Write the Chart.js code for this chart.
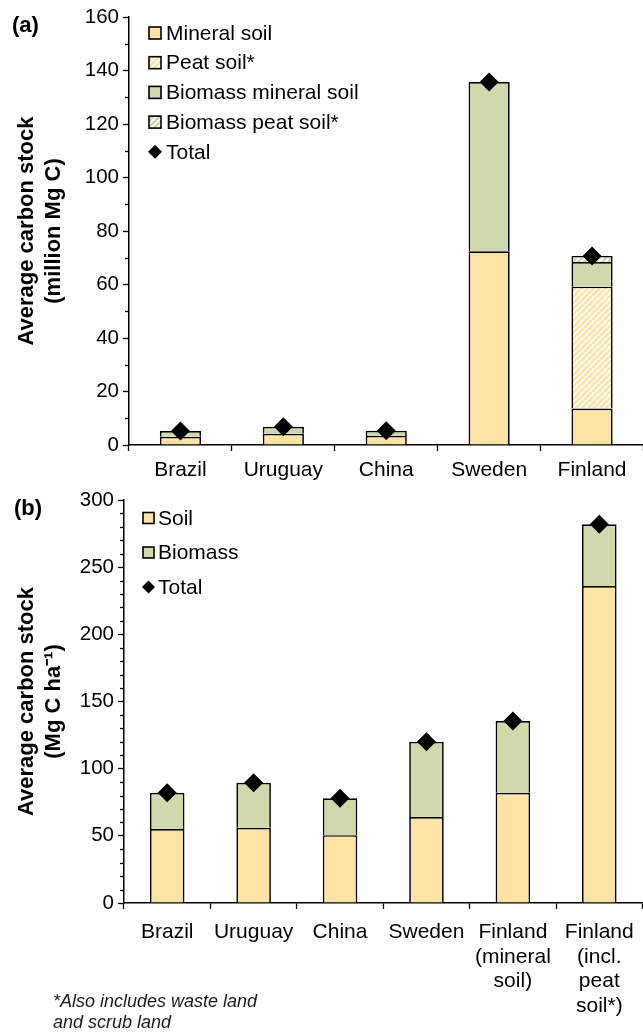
<!DOCTYPE html>
<html>
<head>
<meta charset="utf-8">
<script src="https://cdn.jsdelivr.net/npm/chart.js@4/dist/chart.umd.min.js"></script>
<style>
  html, body { margin: 0; padding: 0; background: #fff; overflow: hidden; }
  #wrap { position: relative; width: 643px; height: 1033px; overflow: hidden; background: #fff; }
  .panel { position: absolute; left: 0; }
  .tag { position: absolute; font: bold 22px "Liberation Sans", Arial, sans-serif; color: #000; line-height: 26px; }
  .note { position: absolute; left: 53px; top: 991px; font: italic 18px/21px "Liberation Sans", Arial, sans-serif; color: #1a1a1a; }
</style>
</head>
<body>
<div id="wrap">
  <div class="panel" style="top:0;width:653px;height:482px"><canvas id="chartA" width="653" height="482"></canvas></div>
  <div class="panel" style="top:482px;width:652px;height:551px"><canvas id="chartB" width="652" height="551"></canvas></div>
  <div class="tag" style="left:12px;top:12px">(a)</div>
  <div class="tag" style="left:14px;top:495px">(b)</div>
  <div class="note">*Also includes waste land<br>and scrub land</div>
</div>
<script>
// ---- (a) total stock per country, million Mg C ----
const categoriesA = ['Brazil', 'Uruguay', 'China', 'Sweden', 'Finland'];
const mineralSoilA = [3.1, 4.2, 3.4, 72.4, 13.6];
const peatSoilA = [null, null, null, null, 45.6];
const biomassMineralA = [2.1, 2.6, 1.9, 63.3, 9.2];
const biomassPeatA = [null, null, null, null, 2.3];
const totalA = [5.2, 6.8, 5.3, 135.7, 70.7];
const yTicksA = { min: 0, max: 160, step: 10, major: 20 };

// ---- (b) stock per hectare, Mg C ha-1 ----
const categoriesB = ['Brazil', 'Uruguay', 'China', 'Sweden',
  ['Finland', '(mineral', 'soil)'], ['Finland', '(incl.', 'peat', 'soil*)']];
const soilB = [55, 56, 50.5, 64, 82, 236];
const biomassB = [27, 33.5, 27.5, 56, 53.5, 46];
const totalB = [82, 89.5, 78, 120, 135.5, 282];
const yTicksB = { min: 0, max: 300, step: 10, major: 50 };

const FONT = '"Liberation Sans", Arial, sans-serif';
Chart.defaults.font.family = FONT;
Chart.defaults.color = '#000';

const SOIL = '#FFE3A5';
const BIOMASS = '#D0D9AB';

function hatch(color) {
  const n = 6;
  const c = document.createElement('canvas');
  c.width = n; c.height = n;
  const g = c.getContext('2d');
  g.fillStyle = '#fff';
  g.fillRect(0, 0, n, n);
  g.strokeStyle = color;
  g.lineWidth = 2.6;
  g.beginPath();
  g.moveTo(-1, n + 1); g.lineTo(n + 1, -1);
  g.moveTo(-2, 2); g.lineTo(2, -2);
  g.moveTo(n - 2, n + 2); g.lineTo(n + 2, n - 2);
  g.stroke();
  return g.createPattern(c, 'repeat');
}

// legend drawn inside the plot area, one row per dataset
const insideLegend = {
  id: 'insideLegend',
  afterDraw(chart, args, o) {
    const ctx = chart.ctx;
    ctx.save();
    ctx.font = '21px ' + FONT;
    ctx.textBaseline = 'middle';
    chart.data.datasets.forEach((ds, i) => {
      const y = o.y + i * o.gap;
      const x = o.x;
      if (ds.type === 'line') {
        const cx = x + o.box / 2, r = o.box / 2 + 1;
        ctx.fillStyle = '#000';
        ctx.beginPath();
        ctx.moveTo(cx, y - r); ctx.lineTo(cx + r, y); ctx.lineTo(cx, y + r); ctx.lineTo(cx - r, y);
        ctx.closePath(); ctx.fill();
      } else {
        ctx.fillStyle = ds.backgroundColor;
        ctx.fillRect(x, y - o.box / 2, o.box, o.box);
        ctx.strokeStyle = '#000';
        ctx.lineWidth = 1.6;
        ctx.strokeRect(x, y - o.box / 2, o.box, o.box);
      }
      ctx.fillStyle = '#000';
      ctx.fillText(ds.label, x + o.textGap, y + 1);
    });
    ctx.restore();
  }
};

// short minor ticks on the value axis
const minorTicks = {
  id: 'minorTicks',
  afterDraw(chart, args, o) {
    const s = chart.scales.y, ctx = chart.ctx;
    ctx.save();
    ctx.strokeStyle = '#000';
    ctx.lineWidth = 1.3;
    s.ticks.forEach(t => {
      if (t.value % o.major !== 0) {
        const py = Math.round(s.getPixelForValue(t.value)) + 0.5;
        ctx.beginPath();
        ctx.moveTo(s.right - o.len, py);
        ctx.lineTo(s.right, py);
        ctx.stroke();
      }
    });
    ctx.restore();
  }
};

function barSet(label, data, fill) {
  return {
    type: 'bar', label, data, backgroundColor: fill,
    borderColor: '#000', borderWidth: 1.7, borderSkipped: 'start',
    stack: 'parts', order: 1,
    categoryPercentage: 0.4, barPercentage: 1
  };
}
function totalSet(data) {
  return {
    type: 'line', label: 'Total', data, showLine: false,
    pointStyle: 'rectRot', pointRadius: 9.5, pointHoverRadius: 9.5,
    pointBackgroundColor: '#000', pointBorderColor: '#000', pointBorderWidth: 0,
    stack: 'total', order: 0, clip: false
  };
}

function makeOptions(cfg) {
  return {
    responsive: false,
    animation: false,
    events: [],
    layout: { padding: { top: cfg.top, right: cfg.right, left: 0, bottom: 0 } },
    plugins: {
      legend: { display: false },
      tooltip: { enabled: false },
      insideLegend: cfg.legend,
      minorTicks: { major: cfg.ticks.major, len: 4 }
    },
    scales: {
      x: {
        stacked: true,
        grid: { drawOnChartArea: false, drawTicks: true, tickLength: 6, tickColor: '#000', tickWidth: 1.3, offset: true },
        border: { display: true, color: '#000', width: 1.5 },
        ticks: { font: { size: 21, lineHeight: 1.17 }, color: '#000', padding: cfg.xPad, maxRotation: 0, autoSkip: false },
        afterFit(s) { s.height = cfg.xHeight; }
      },
      y: {
        stacked: true,
        min: cfg.ticks.min, max: cfg.ticks.max,
        grid: {
          drawOnChartArea: false, drawTicks: true, tickLength: 6, tickWidth: 1.3,
          tickColor: c => (c.tick && c.tick.value % cfg.ticks.major === 0) ? '#000' : 'rgba(0,0,0,0)'
        },
        border: { display: true, color: '#000', width: 1.5 },
        ticks: {
          stepSize: cfg.ticks.step, autoSkip: false, font: { size: 20.5 }, color: '#000', padding: 4,
          callback: v => (v % cfg.ticks.major === 0 ? v : '')
        },
        title: {
          display: true, text: cfg.title, color: '#000',
          font: { size: 22, weight: 'bold', lineHeight: 1.2 },
          padding: { top: 14, bottom: 0 }
        },
        afterFit(s) { s.width = cfg.yWidth; }
      }
    }
  };
}

new Chart(document.getElementById('chartA'), {
  data: {
    labels: categoriesA,
    datasets: [
      barSet('Mineral soil', mineralSoilA, SOIL),
      barSet('Peat soil*', peatSoilA, hatch(SOIL)),
      barSet('Biomass mineral soil', biomassMineralA, BIOMASS),
      barSet('Biomass peat soil*', biomassPeatA, hatch(BIOMASS)),
      totalSet(totalA)
    ]
  },
  options: makeOptions({
    top: 17, right: 0, xHeight: 37, yWidth: 129, xPad: 7, ticks: yTicksA,
    title: ['Average carbon stock', '(million Mg C)'],
    legend: { x: 149, y: 33, gap: 29.7, box: 12, textGap: 17 }
  }),
  plugins: [insideLegend, minorTicks]
});

new Chart(document.getElementById('chartB'), {
  data: {
    labels: categoriesB,
    datasets: [
      barSet('Soil', soilB, SOIL),
      barSet('Biomass', biomassB, BIOMASS),
      totalSet(totalB)
    ]
  },
  options: makeOptions({
    top: 18, right: 8, xHeight: 130, yWidth: 124, xPad: 11, ticks: yTicksB,
    title: ['Average carbon stock', '(Mg C ha\u207B\u00B9)'],
    legend: { x: 143, y: 36, gap: 34.5, box: 11, textGap: 15 }
  }),
  plugins: [insideLegend, minorTicks]
});
</script>
</body>
</html>
